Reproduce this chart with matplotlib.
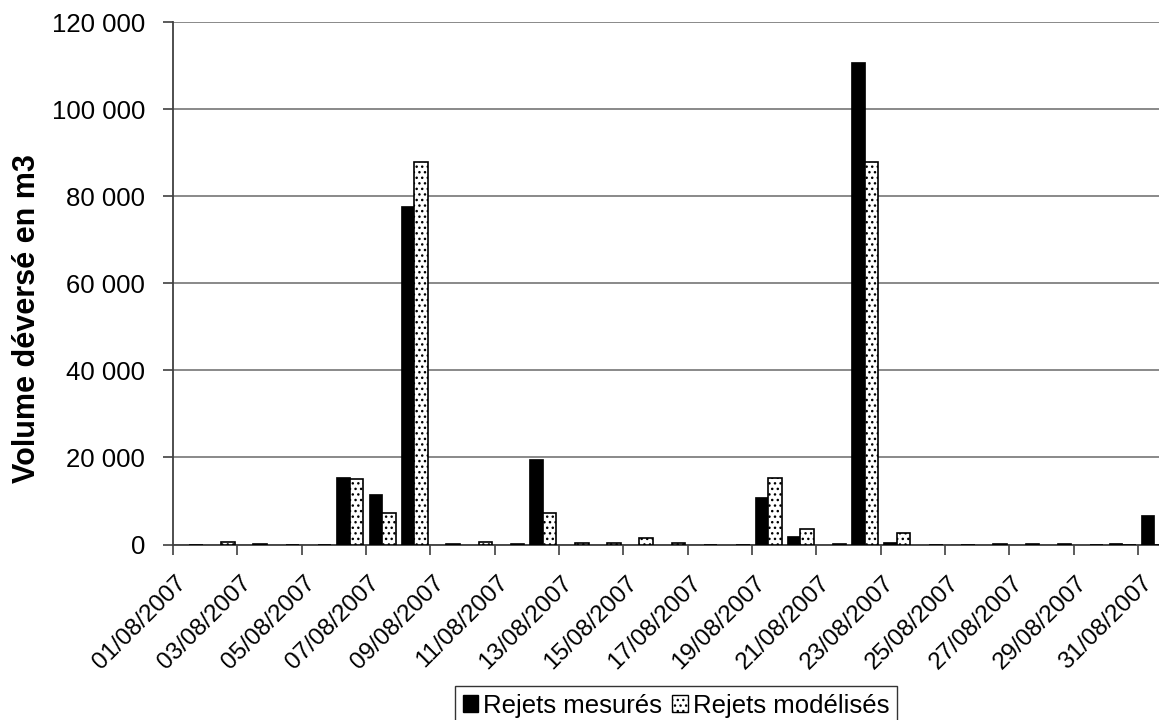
import matplotlib
matplotlib.use("Agg")
import matplotlib.pyplot as plt
from matplotlib.patches import Patch
from matplotlib.ticker import FuncFormatter
import numpy as np

plt.rcParams["font.family"] = ["Liberation Sans", "DejaVu Sans"]
plt.rcParams["hatch.linewidth"] = 1.0

# daily values, August 2007 (m3)
days = ["%02d/08/2007" % d for d in range(1, 32)]
mesures = [0, 0, 0, 0, 0, 15600, 11600, 77700, 0, 0,
           0, 19650, 0, 0, 0, 0, 0, 0, 10950, 1950,
           0, 110800, 600, 0, 0, 0, 0, 0, 0, 300,
           6750]
modelises = [0, 500, 100, 0, 0, 14950, 7250, 87800, 100, 620,
             150, 7300, 270, 400, 1420, 400, 0, 0, 15200, 3450,
             100, 87900, 2650, 0, 0, 150, 60, 200, 0, 0,
             0]

fig = plt.figure(figsize=(11.59, 7.2), dpi=100)
# plot area runs a little past the right edge, as in the original export
ax = fig.add_axes([173 / 1159, 175.5 / 720, 997.3 / 1159, 522.5 / 720])

x = np.arange(len(days))
w = 0.42
ax.bar(x - 0.21, mesures, w, color="black", edgecolor="black", linewidth=0.5, zorder=3)
ax.bar(x + 0.21, modelises, w, color="white", edgecolor="black", linewidth=1.2,
       hatch="...", zorder=3)

ax.set_xlim(-0.5, len(days) - 0.5)
ax.set_ylim(0, 120000)
ax.set_yticks(np.arange(0, 120001, 20000))
ax.yaxis.set_major_formatter(FuncFormatter(lambda v, p: "{:,.0f}".format(v).replace(",", " ")))
ax.yaxis.grid(True, color="#808080", linewidth=1.3, zorder=0)

# tick marks between categories, every second one; labels every second day
ax.set_xticks(np.arange(-0.5, len(days), 2))
ax.set_xticklabels([])
ax.set_xticks(np.arange(0, len(days), 2) - 0.18, minor=True)
ax.set_xticklabels(days[::2], minor=True, rotation=45, ha="right", va="center",
                   rotation_mode="anchor", fontsize=17.5)
ax.tick_params(axis="x", which="major", length=7, width=1.2, color="#404040")
ax.tick_params(axis="x", which="minor", length=0, pad=25)
ax.tick_params(axis="y", length=7, width=1.2, color="#404040", labelsize=18.5, pad=13)

for s in ["top", "right"]:
    ax.spines[s].set_visible(False)
for s in ["left", "bottom"]:
    ax.spines[s].set_color("#404040")
    ax.spines[s].set_linewidth(1.3)

ax.set_ylabel("Volume déversé en m3", fontsize=22, fontweight="bold")
ax.yaxis.set_label_coords(-0.131, 0.433)

handles = [Patch(facecolor="black", edgecolor="black"),
           Patch(facecolor="white", edgecolor="black", hatch="...")]
leg = fig.legend(handles, ["Rejets mesurés", "Rejets modélisés"], ncol=2,
                 loc="upper center", bbox_to_anchor=(676 / 1159, 1 - 686 / 720),
                 fontsize=18.5, frameon=True, fancybox=False, handlelength=0.6,
                 handleheight=0.6, handletextpad=0.2, columnspacing=0.4,
                 borderpad=0.3, borderaxespad=0)
leg.get_frame().set_edgecolor("black")
leg.get_frame().set_linewidth(1.0)

fig.savefig("out.png", dpi=100)
